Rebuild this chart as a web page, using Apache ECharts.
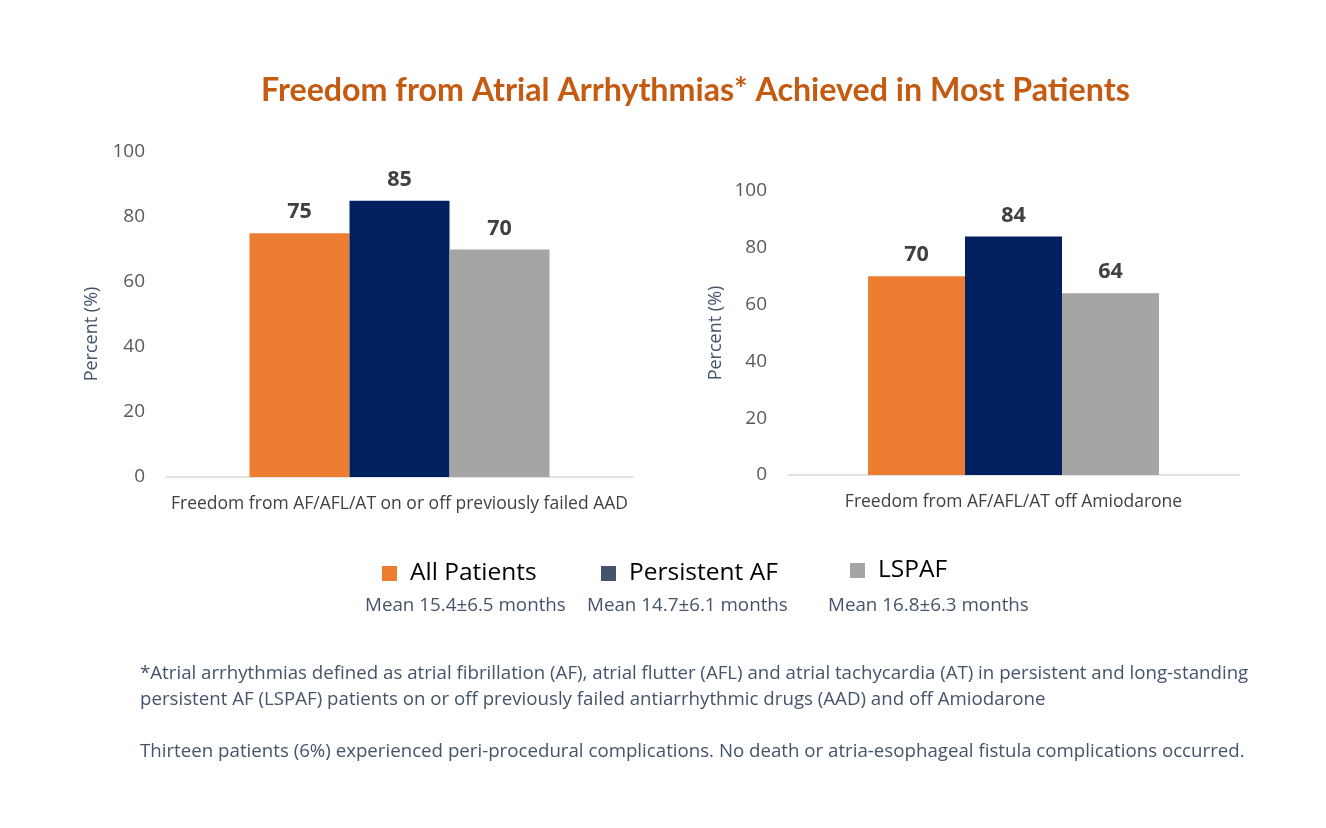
<!DOCTYPE html>
<html><head><meta charset="utf-8">
<script src="https://cdn.jsdelivr.net/npm/echarts@6/dist/echarts.min.js"></script>
<style>html,body{margin:0;padding:0;background:#fff}#c{width:1326px;height:828px}</style>
</head><body><div id="c"></div>
<script>
const seriesNames = ['All Patients', 'Persistent AF', 'LSPAF'];
const leftCategories = ['Freedom from AF/AFL/AT on or off previously failed AAD'];
const rightCategories = ['Freedom from AF/AFL/AT off Amiodarone'];
const leftValues = [75, 85, 70];
const rightValues = [70, 84, 64];
const meanLabels = ['Mean 15.4±6.5 months', 'Mean 14.7±6.1 months', 'Mean 16.8±6.3 months'];
const yTicks = [0, 20, 40, 60, 80, 100];
const yAxisName = 'Percent (%)';
const titleText = 'Freedom from Atrial Arrhythmias* Achieved in Most Patients';
const footnotes = [
  '*Atrial arrhythmias defined as atrial fibrillation (AF), atrial flutter (AFL) and atrial tachycardia (AT) in persistent and long-standing',
  'persistent AF (LSPAF) patients on or off previously failed antiarrhythmic drugs (AAD) and off Amiodarone',
  'Thirteen patients (6%) experienced peri-procedural complications. No death or atria-esophageal fistula complications occurred.'
];

const barColors = ['#ED7D31', '#002060', '#A5A5A5'];
const legendColors = ['#ED7D31', '#44546A', '#A5A5A5'];
const FONT = '"Open Sans", sans-serif';
const TFONT = 'Lato, sans-serif';

const chart = echarts.init(document.getElementById('c'));

function yAxis(gridIndex, nameGap, showName) {
  return {
    type: 'value', gridIndex, min: 0, max: 100, interval: 20,
    name: showName ? yAxisName : '', nameLocation: 'middle', nameGap, nameRotate: 90,
    nameTextStyle: { color: '#44546A', fontSize: 18, fontFamily: FONT },
    axisLine: { show: false }, axisTick: { show: false }, splitLine: { show: false },
    axisLabel: { color: '#595959', fontSize: 19, fontFamily: FONT, margin: 21,
      formatter: v => yTicks.includes(v) ? String(v) : '' }
  };
}
function xAxis(gridIndex, cats) {
  return {
    type: 'category', gridIndex, data: cats,
    axisLine: { lineStyle: { color: '#D9D9D9', width: 1.5 } }, axisTick: { show: false },
    axisLabel: { color: '#404040', fontSize: 17.5, fontFamily: FONT, margin: 18 }
  };
}
const series = [];
[[leftValues, 0, 100], [rightValues, 1, 97]].forEach(([vals, gi, bw]) => {
  vals.forEach((v, i) => {
    series.push({
      name: seriesNames[i], type: 'bar', xAxisIndex: gi, yAxisIndex: gi,
      data: [v], barWidth: bw, barGap: '0%',
      itemStyle: { color: barColors[i] },
      label: { show: true, position: 'top', distance: 10, color: '#404040', fontSize: 21.5,
        fontWeight: 'bold', fontFamily: FONT }
    });
  });
});

const legendPos = [[377, 556], [596, 556], [845, 553]];
const legends = seriesNames.map((n, i) => ({
  data: [{ name: n, itemStyle: { color: legendColors[i] } }],
  left: legendPos[i][0], top: legendPos[i][1], icon: 'rect',
  itemWidth: 15, itemHeight: 15, itemGap: 10,
  selectedMode: false,
  textStyle: { color: '#000', fontSize: 24.5, fontFamily: FONT, padding: [0, 0, 0, 8] }
}));

const meanX = [365, 587, 828];
const graphics = [];
meanLabels.forEach((t, i) => graphics.push({
  type: 'text', left: meanX[i], top: 596,
  style: { text: t, fill: '#44546A', font: '18.8px ' + FONT }
}));
[[footnotes[0], 664], [footnotes[1], 690], [footnotes[2], 742]].forEach(([t, y]) => graphics.push({
  type: 'text', left: 140, top: y,
  style: { text: t, fill: '#44546A', font: '18.7px ' + FONT }
}));
graphics.push({
  type: 'text', x: 92, y: 334, rotation: Math.PI / 2,
  style: { text: yAxisName, fill: '#44546A', font: '18px ' + FONT,
    align: 'center', verticalAlign: 'middle' }
});

chart.setOption({
  animation: false,
  title: { text: titleText, left: 256, top: 70,
    textStyle: { color: '#C55A11', fontSize: 32.2, fontWeight: 'bold', fontFamily: TFONT } },
  grid: [
    { left: 166, right: 693, top: 152, bottom: 351 },
    { left: 788, right: 87, top: 191, bottom: 353 }
  ],
  xAxis: [xAxis(0, leftCategories), xAxis(1, rightCategories)],
  yAxis: [yAxis(0, 65, false), yAxis(1, 63, true)],
  legend: legends,
  series,
  graphic: graphics
});
</script></body></html>
